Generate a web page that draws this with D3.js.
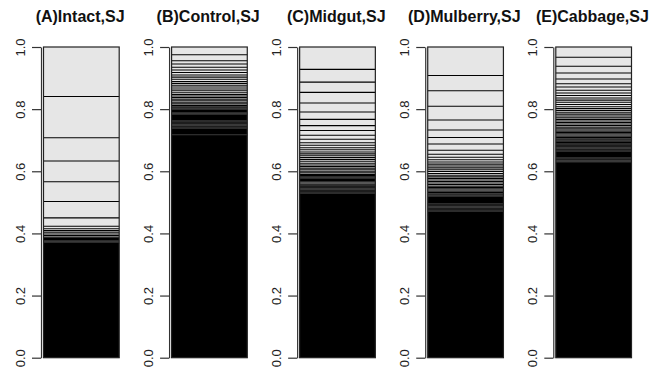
<!DOCTYPE html>
<html>
<head>
<meta charset="utf-8">
<script src="https://cdn.jsdelivr.net/npm/d3@7"></script>
<style>
  body { margin: 0; background: #fff; }
</style>
</head>
<body>
<div id="chart"></div>
<script>
// panel titles
const titles = ["(A)Intact,SJ", "(B)Control,SJ", "(C)Midgut,SJ", "(D)Mulberry,SJ", "(E)Cabbage,SJ"];

// everything below the last value is the pile of rare taxa (drawn solid)
const intactBreaks = [0.841, 0.708, 0.633, 0.566, 0.503, 0.450, 0.423, 0.415, 0.409, 0.404,
  0.398, 0.393, 0.388, 0.384, 0.380, 0.376, 0.372, 0.368];
const controlBreaks = [0.975, 0.956, 0.945, 0.935, 0.926, 0.918, 0.910, 0.903, 0.896, 0.889,
  0.883, 0.877, 0.871, 0.865, 0.859, 0.853, 0.847, 0.842, 0.837, 0.832, 0.827, 0.822, 0.817,
  0.812, 0.808, 0.804, 0.800, 0.796, 0.792, 0.788, 0.784, 0.780, 0.776, 0.773, 0.770, 0.767,
  0.764, 0.761, 0.758, 0.755, 0.752, 0.749, 0.746, 0.743, 0.740, 0.737, 0.734, 0.731, 0.728,
  0.725, 0.722, 0.719, 0.716];
const midgutBreaks = [0.928, 0.887, 0.854, 0.820, 0.791, 0.767, 0.747, 0.731, 0.716, 0.703,
  0.692, 0.684, 0.676, 0.669, 0.662, 0.656, 0.650, 0.644, 0.638, 0.632, 0.626, 0.620, 0.615,
  0.610, 0.605, 0.600, 0.595, 0.590, 0.586, 0.582, 0.578, 0.574, 0.570, 0.566, 0.562, 0.558,
  0.555, 0.552, 0.549, 0.546, 0.543, 0.540, 0.537, 0.534, 0.531, 0.528, 0.525, 0.522];
const mulberryBreaks = [0.908, 0.859, 0.809, 0.765, 0.733, 0.709, 0.688, 0.668, 0.655, 0.645,
  0.637, 0.630, 0.623, 0.617, 0.611, 0.605, 0.599, 0.593, 0.587, 0.582, 0.577, 0.572, 0.567,
  0.562, 0.557, 0.552, 0.548, 0.544, 0.540, 0.536, 0.532, 0.528, 0.524, 0.520, 0.516, 0.512,
  0.509, 0.506, 0.503, 0.500, 0.497, 0.494, 0.491, 0.488, 0.485, 0.482, 0.479, 0.476, 0.473,
  0.470, 0.467, 0.464, 0.461, 0.458];
const cabbageBreaks = [0.967, 0.938, 0.916, 0.897, 0.882, 0.871, 0.861, 0.852, 0.844, 0.836,
  0.829, 0.822, 0.815, 0.808, 0.802, 0.796, 0.790, 0.784, 0.778, 0.772, 0.767, 0.762, 0.757,
  0.752, 0.747, 0.742, 0.737, 0.733, 0.729, 0.725, 0.721, 0.717, 0.713, 0.709, 0.705, 0.701,
  0.697, 0.693, 0.690, 0.687, 0.684, 0.681, 0.678, 0.675, 0.672, 0.669, 0.666, 0.663, 0.660,
  0.657, 0.654, 0.651, 0.648, 0.645, 0.642, 0.639, 0.636, 0.633, 0.630, 0.627];

const tickValues = [0, 0.2, 0.4, 0.6, 0.8, 1.0];

const panels = [intactBreaks, controlBreaks, midgutBreaks, mulberryBreaks, cabbageBreaks];

let width = 649, height = 371;
let barGap = 2.5, barW = 75.7;

let svg = d3.select("#chart")
    .append("svg")
    .attr("width", width)
    .attr("height", height);

let y = d3.scaleLinear()
    .domain([0, 1])
    .range([357.7, 47]);

// left edge (axis line) of each panel
let px = d3.scaleLinear()
    .domain([0, panels.length - 1])
    .range([41, 553.3]);

panels.forEach((breaks, i) => {
    let g = svg.append("g")
        .attr("transform", "translate(" + px(i) + ",0)");

    let tops = [1].concat(breaks);
    let segs = tops.map((t, j) => ({
        lo: j < breaks.length ? breaks[j] : 0,
        hi: t,
        tail: j === breaks.length
    }));

    g.selectAll("rect.seg")
        .data(segs)
        .enter()
        .append("rect")
        .attr("class", "seg")
        .attr("x", barGap)
        .attr("width", barW)
        .attr("y", d => y(d.hi))
        .attr("height", d => y(d.lo) - y(d.hi))
        .attr("fill", d => d.tail ? "#000" : "#e6e6e6");

    g.selectAll("line.brk")
        .data(breaks)
        .enter()
        .append("line")
        .attr("class", "brk")
        .attr("x1", barGap)
        .attr("x2", barGap + barW)
        .attr("y1", d => y(d))
        .attr("y2", d => y(d))
        .attr("stroke", "#000")
        .attr("stroke-width", 1.05);

    g.append("rect")
        .attr("x", barGap)
        .attr("y", y(1))
        .attr("width", barW)
        .attr("height", y(0) - y(1))
        .attr("fill", "none")
        .attr("stroke", "#222")
        .attr("stroke-width", 1.2);

    let yAxis = d3.axisLeft(y)
        .tickValues(tickValues)
        .tickFormat(d3.format(".1f"))
        .tickSize(9)
        .tickSizeOuter(0);

    let ag = g.append("g")
        .attr("class", "axis")
        .call(yAxis);

    ag.select(".domain").attr("stroke", "#333").attr("stroke-width", 1.2);
    ag.selectAll(".tick line").attr("stroke", "#333").attr("stroke-width", 1.2);
    ag.selectAll(".tick text")
        .attr("transform", "rotate(-90)")
        .attr("x", 0)
        .attr("y", -16)
        .attr("dy", 0)
        .attr("text-anchor", "middle")
        .attr("font-family", "Liberation Sans, Arial, sans-serif")
        .attr("font-size", "13px")
        .attr("fill", "#222");

    g.append("text")
        .attr("x", (barGap + barW + 2) / 2 - 1)
        .attr("y", 22)
        .attr("text-anchor", "middle")
        .attr("font-family", "Liberation Sans, Arial, sans-serif")
        .attr("font-weight", "bold")
        .attr("font-size", "16px")
        .attr("fill", "#111")
        .text(titles[i]);
});
</script>
</body>
</html>
